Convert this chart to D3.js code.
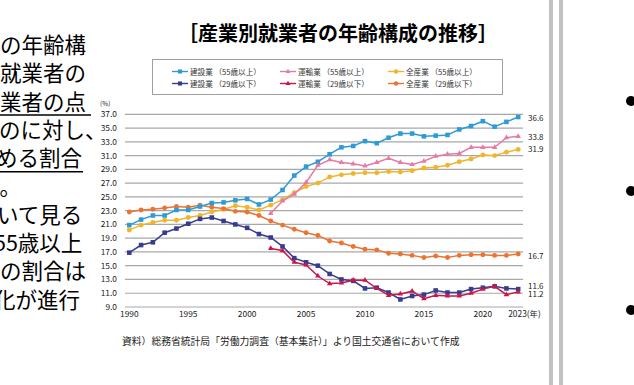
<!DOCTYPE html>
<meta charset="utf-8">
<script src="https://d3js.org/d3.v7.min.js"></script>
<body style="margin: 0; background: #fff;">
<svg id="chart" width="634" height="385"></svg>
</body>

<style>
  text { font-family: "Noto Sans CJK JP", "Noto Sans", sans-serif; }
  .grid line { stroke: #a8a8a8; stroke-width: 1.2px; }
  .series .line { fill: none; stroke-width: 1.5px; }
</style>

<script>

// years on the x axis
var years = d3.range(1990, 2024);
var tickYears = [1990, 1995, 2000, 2005, 2010, 2015, 2020, 2023];
var yTicks = d3.range(9, 38, 2);

// 建設業
var con55 = [20.9, 21.7, 22.3, 22.3, 23.1, 23.1, 23.6, 24.1, 24.2, 24.5,
             24.7, 23.9, 24.6, 26.0, 28.1, 29.4, 30.1, 31.2, 32.2, 32.4,
             33.1, 32.8, 33.6, 34.2, 34.2, 33.8, 33.9, 34.0, 34.8, 35.3,
             36.0, 35.2, 35.9, 36.6];
var con29 = [16.9, 18.0, 18.4, 19.8, 20.4, 21.1, 21.8, 22.0, 21.5, 21.0,
             20.5, 19.6, 19.1, 17.8, 16.1, 15.5, 15.0, 13.8, 13.0, 12.8,
             11.7, 11.8, 11.1, 10.1, 10.6, 10.8, 11.4, 11.1, 11.1, 11.6,
             11.8, 12.0, 11.7, 11.6];
// 運輸業 (2002年から)
var tra55 = [null, null, null, null, null, null, null, null, null, null,
             null, null, 22.6, 24.4, 25.4, 27.1, 29.6, 30.4, 30.0, 29.8,
             29.5, 30.0, 30.6, 30.0, 29.7, 30.2, 30.9, 31.2, 31.3, 32.2,
             32.2, 32.2, 33.6, 33.8];
var tra29 = [null, null, null, null, null, null, null, null, null, null,
             null, null, 17.5, 17.2, 15.5, 15.1, 13.5, 12.4, 12.5, 12.9,
             12.9, 11.7, 10.7, 10.9, 11.3, 10.2, 10.7, 10.6, 10.6, 11.0,
             11.6, 12.0, 10.8, 11.2];
// 全産業
var all55 = [20.2, 20.9, 21.3, 21.6, 21.6, 22.0, 22.3, 22.8, 23.2, 23.7,
             23.5, 23.1, 23.8, 24.6, 25.6, 26.5, 27.0, 27.9, 28.2, 28.4,
             28.5, 28.5, 28.7, 28.6, 28.8, 29.2, 29.3, 29.6, 30.1, 30.5,
             31.1, 31.0, 31.5, 31.9];
var all29 = [22.8, 23.1, 23.2, 23.4, 23.6, 23.5, 23.8, 23.5, 23.3, 22.9,
             22.8, 22.3, 21.5, 20.9, 20.3, 19.8, 19.4, 18.6, 18.3, 17.8,
             17.4, 17.3, 16.8, 16.7, 16.5, 16.2, 16.4, 16.2, 16.5, 16.6,
             16.6, 16.5, 16.5, 16.7];

var endLabels = ["36.6", "33.8", "31.9", "16.7", "11.6", "11.2"];
// where each end label sits on the value scale (nudged apart like the original)
var endAt = [36.5, 33.6, 31.9, 16.4, 12.05, 10.8];

// slide text on the left, clipped by the window edge
var leftLines = ["の年齢構", "就業者の", "業者の点", "のに対し、", "める割合", "る。",
                 "いて見る", "55歳以上", "の割合は", "化が進行"];
var leftShift = [0, 0, 0, -1, -4, -22, -3, -6, 0, -6];
var underlined = [2, 4];

// legend order: row 1 = 55歳以上, row 2 = 29歳以下
var series = [
  {name: "建設業 （55歳以上）", values: con55, color: "#2f9bd6", shape: "square"},
  {name: "運輸業 （55歳以上）", values: tra55, color: "#e67aa5", shape: "triangle"},
  {name: "全産業 （55歳以上）", values: all55, color: "#f0b52c", shape: "circle"},
  {name: "建設業 （29歳以下）", values: con29, color: "#363c8e", shape: "square"},
  {name: "運輸業 （29歳以下）", values: tra29, color: "#c9174a", shape: "triangle"},
  {name: "全産業 （29歳以下）", values: all29, color: "#ea7430", shape: "circle"}
];

var svg = d3.select("#chart");

var x = d3.scaleLinear().domain([1990, 2023]).range([129.3, 518.2]);
var y = d3.scaleLinear().domain([9, 37]).range([307, 114.3]);

var lineY = function(i) { return 53 + i * 28.3; };

svg.append("g")
  .selectAll("text")
  .data(leftLines)
  .join("text")
    .attr("x", function(d, i) { return leftShift[i]; })
    .attr("y", function(d, i) { return lineY(i); })
    .style("font-size", "21.5px")
    .text(function(d) { return d; });

svg.append("g")
  .selectAll("line")
  .data(underlined)
  .join("line")
    .attr("x1", 0)
    .attr("x2", function(d) { return d == 2 ? 91 : 83; })
    .attr("y1", function(d) { return lineY(d) + 5.5; })
    .attr("y2", function(d) { return lineY(d) + 5.5; })
    .attr("stroke", "#000")
    .attr("stroke-width", 1.5);

// divider and bullets on the right
svg.append("g")
  .selectAll("rect")
  .data([549, 559])
  .join("rect")
    .attr("x", function(d) { return d; })
    .attr("y", 0)
    .attr("width", 4)
    .attr("height", 385)
    .attr("fill", "#c2c2c2");

svg.append("g")
  .selectAll("circle")
  .data([101, 191, 310])
  .join("circle")
    .attr("cx", 631)
    .attr("cy", function(d) { return d; })
    .attr("r", 5)
    .attr("fill", "#000");

// title
svg.append("text")
  .attr("x", 338)
  .attr("y", 41)
  .attr("text-anchor", "middle")
  .style("font-size", "20px")
  .style("font-weight", "bold")
  .text("［産業別就業者の年齢構成の推移］");

// markers
function markerPath(shape, s) {
  if (shape == "square") return d3.symbol(d3.symbolSquare, 21 * s)();
  if (shape == "triangle") return d3.symbol(d3.symbolTriangle, 13 * s)();
  return d3.symbol(d3.symbolCircle, 19 * s)();
}

// legend
var legend = svg.append("g");
legend.append("rect")
  .attr("x", 152.5).attr("y", 59.5)
  .attr("width", 350).attr("height", 35)
  .attr("fill", "#fff")
  .attr("stroke", "#a0a0a0")
  .attr("stroke-width", 1);

var item = legend.selectAll("g")
  .data(series)
  .join("g")
    .attr("transform", function(d, i) {
      return "translate(" + (172 + (i % 3) * 108) + "," + (71.5 + Math.floor(i / 3) * 12) + ")";
    });

item.append("line")
  .attr("x1", 0).attr("x2", 16)
  .attr("stroke", function(d) { return d.color; })
  .attr("stroke-width", 1.4);

item.append("path")
  .attr("transform", "translate(8,0)")
  .attr("d", function(d) { return markerPath(d.shape, 0.8); })
  .attr("fill", function(d) { return d.color; });

item.append("text")
  .attr("x", 18)
  .attr("y", 3)
  .style("font-size", "7.6px")
  .attr("fill", "#333")
  .text(function(d) { return d.name; });

// grid
svg.append("g")
  .attr("class", "grid")
  .selectAll("line")
  .data(yTicks)
  .join("line")
    .attr("x1", 125)
    .attr("x2", 523)
    .attr("y1", function(d) { return y(d); })
    .attr("y2", function(d) { return y(d); });

// y axis labels
svg.append("g")
  .selectAll("text")
  .data(yTicks)
  .join("text")
    .attr("x", 117)
    .attr("y", function(d) { return y(d) + 3; })
    .attr("text-anchor", "end")
    .style("font-size", "8.4px")
    .attr("fill", "#222")
    .text(function(d) { return d3.format(".1f")(d); });

svg.append("text")
  .attr("x", 100)
  .attr("y", 106)
  .style("font-size", "6.5px")
  .attr("fill", "#222")
  .text("(%)");

// x axis labels
svg.append("g")
  .selectAll("text")
  .data(tickYears)
  .join("text")
    .attr("x", function(d) { return d == 2023 ? x(d) - 10 : x(d); })
    .attr("y", 317)
    .attr("text-anchor", function(d) { return d == 2023 ? "start" : "middle"; })
    .style("font-size", "8.4px")
    .attr("fill", "#222")
    .text(function(d) { return d == 2023 ? d + "(年)" : d; });

// lines and markers
var line = d3.line()
  .defined(function(d) { return d.v != null; })
  .x(function(d) { return x(d.year); })
  .y(function(d) { return y(d.v); });

var drawOrder = [2, 5, 0, 3, 1, 4];
var g = svg.append("g").attr("class", "series")
  .selectAll("g")
  .data(drawOrder.map(function(i) { return series[i]; }))
  .join("g");

g.append("path")
  .attr("class", "line")
  .attr("stroke", function(d) { return d.color; })
  .attr("d", function(d) {
    return line(years.map(function(yr, i) { return {year: yr, v: d.values[i]}; }));
  });

g.selectAll(".pt")
  .data(function(d) {
    return years.map(function(yr, i) { return {year: yr, v: d.values[i], s: d}; })
      .filter(function(p) { return p.v != null; });
  })
  .join("path")
    .attr("class", "pt")
    .attr("transform", function(d) { return "translate(" + x(d.year) + "," + y(d.v) + ")"; })
    .attr("d", function(d) { return markerPath(d.s.shape, 1); })
    .attr("fill", function(d) { return d.s.color; });

// values at the end of each line
svg.append("g")
  .selectAll("text")
  .data(endLabels)
  .join("text")
    .attr("x", 528)
    .attr("y", function(d, i) { return y(endAt[i]) + 2.8; })
    .style("font-size", "8px")
    .attr("fill", "#222")
    .text(function(d) { return d; });

// source
svg.append("text")
  .attr("x", 122)
  .attr("y", 345)
  .style("font-size", "9.8px")
  .attr("fill", "#222")
  .text("資料）総務省統計局「労働力調査（基本集計）」より国土交通省において作成");

</script>
